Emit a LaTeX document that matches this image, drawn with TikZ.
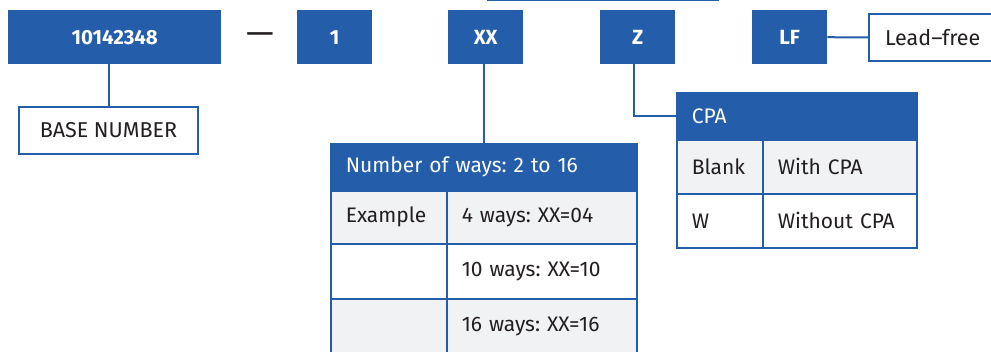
\documentclass[tikz,border=0pt]{standalone}
\usepackage{fontspec}
\setmainfont{Fira Sans}
\definecolor{brand}{HTML}{245EAB}
\definecolor{rowgrey}{HTML}{F1F2F4}
\definecolor{ink}{HTML}{231F20}
\frenchspacing
\begin{document}
\begin{tikzpicture}[x=1pt,y=-1pt,
  every node/.style={inner sep=0pt, anchor=north west},
  codebox/.style={fill=brand, text=white, font=\bfseries\fontsize{20.5}{24}\selectfont,
    minimum height=54pt, minimum width=75pt, align=center},
  outbox/.style={draw=brand, line width=2pt, fill=white, text=ink,
    font=\fontsize{21.5}{25}\selectfont, minimum height=47pt},
  cell/.style={draw=brand, line width=1.6pt, text=ink, font=\fontsize{21}{25}\selectfont,
    inner xsep=15pt, align=left},
  headcell/.style={cell, fill=brand, text=white},
  greycell/.style={cell, fill=rowgrey},
  whitecell/.style={cell, fill=white},
  link/.style={draw=brand, line width=2pt}
]
\clip (0,0) rectangle (991,352);
\fill[white] (0,0) rectangle (991,352);

% cut-off link underline at top
\draw[brand, line width=1pt] (487,1) -- (719,1);

% code boxes
\node[codebox, minimum width=213pt] (base) at (8,10) {10142348};
\node[font=\bfseries\fontsize{21}{24}\selectfont, text=ink, anchor=center] (dash) at (260,37) {\scalebox{1.6}[1]{—}};
\node[codebox] (one) at (297,10) {1};
\node[codebox] (xx) at (448,10) {XX};
\node[codebox] (zz) at (600,10) {Z};
\node[codebox] (lf) at (752,10) {LF};

% lead-free
\node[outbox, text width=130pt, inner xsep=16pt, align=left, minimum height=47pt] (lead) at (868,13) {Lead–free};
\draw[link] (lf.east) -- (lead.west);

% base number
\node[outbox, minimum width=179pt, align=center] (basenum) at (18,106) {BASE NUMBER};
\draw[link] (basenum.north) -- (basenum.north |- base.south);

% number of ways table
\node[headcell, text width=276pt, minimum height=47pt] (ways) at (330,143) {Number of ways: 2 to 16};
\node[greycell, text width=86pt, minimum height=53pt] (w1a) at (330,190) {Example};
\node[greycell, text width=160pt, minimum height=53pt] (w1b) at (446,190) {4 ways: XX=04};
\node[whitecell, text width=86pt, minimum height=55pt] (w2a) at (330,243) {};
\node[whitecell, text width=160pt, minimum height=55pt] (w2b) at (446,243) {10 ways: XX=10};
\node[greycell, text width=86pt, minimum height=55pt] (w3a) at (330,298) {};
\node[greycell, text width=160pt, minimum height=55pt] (w3b) at (446,298) {16 ways: XX=16};
\draw[link] (ways.north) -- (ways.north |- xx.south);

% CPA table
\node[headcell, text width=210pt, minimum height=47pt] (cpa) at (676,92) {CPA};
\node[greycell, text width=56pt, minimum height=54pt] (c1a) at (676,139) {Blank};
\node[greycell, text width=124pt, minimum height=54pt] (c1b) at (762,139) {With CPA};
\node[whitecell, text width=56pt, minimum height=54pt] (c2a) at (676,193) {W};
\node[whitecell, text width=124pt, minimum height=54pt] (c2b) at (762,193) {Without CPA};
\draw[link] (cpa.west) -| ([xshift=-4pt]zz.south);
\end{tikzpicture}
\end{document}
